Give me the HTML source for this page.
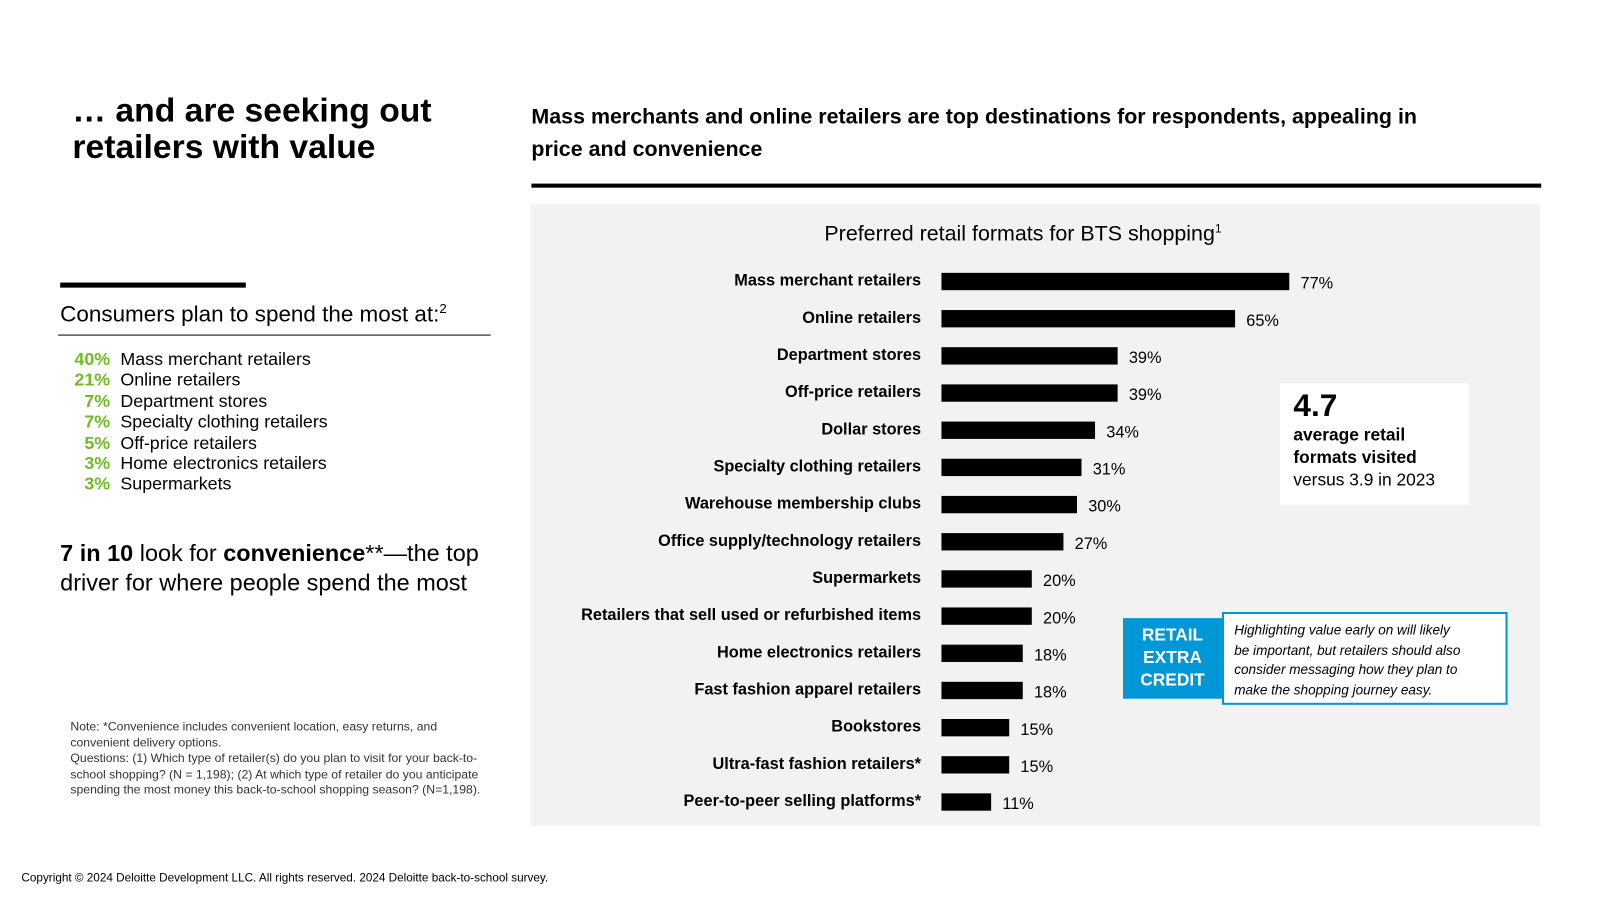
<!DOCTYPE html>
<html><head><meta charset="utf-8"><style>
html,body{margin:0;padding:0;background:#fff;}
body{width:1600px;height:900px;overflow:hidden;font-family:"Liberation Sans",Arial,sans-serif;color:#000;}
#stage{position:absolute;left:0;top:0;width:1570px;height:882px;transform:scale(1.02);transform-origin:0 0;}
.abs{position:absolute;}
</style></head><body>
<div id="stage">
<div class="abs" style="left:71px;top:90px;font-size:33px;font-weight:bold;line-height:36px;">… and are seeking out<br>retailers with value</div>
<div class="abs" style="left:521px;top:99px;font-size:21px;font-weight:bold;line-height:32px;width:980px;">Mass merchants and online retailers are top destinations for respondents, appealing in<br>price and convenience</div>
<div class="abs" style="left:521px;top:180px;width:990px;height:4px;background:#000;"></div>

<div class="abs" style="left:59px;top:277px;width:182px;height:5px;background:#000;"></div>
<div class="abs" style="left:59px;top:295px;font-size:22px;">Consumers plan to spend the most at:<sup style="font-size:13px">2</sup></div>
<div class="abs" style="left:57px;top:328px;width:424px;height:1px;background:#000;"></div>
<div class="abs" id="spendList" style="left:59px;top:342px;font-size:17.5px;line-height:20.4px;"></div>
<div class="abs" style="left:59px;top:528px;font-size:23px;line-height:29px;">
<b>7 in 10</b> look for <b>convenience</b>**—the top<br>driver for where people spend the most</div>
<div class="abs" style="left:69px;top:705px;width:410px;font-size:12px;line-height:15.6px;color:#333;">Note: *Convenience includes convenient location, easy returns, and<br>convenient delivery options.<br>Questions: (1) Which type of retailer(s) do you plan to visit for your back-to-school shopping? (N = 1,198); (2) At which type of retailer do you anticipate spending the most money this back-to-school shopping season? (N=1,198).</div>
<div class="abs" style="left:21px;top:855px;font-size:11.5px;">Copyright © 2024 Deloitte Development LLC. All rights reserved. 2024 Deloitte back-to-school survey.</div>

<div class="abs" style="left:520px;top:200px;width:990px;height:610px;background:#f2f2f2;"></div>
<div class="abs" style="left:520px;top:217px;width:966px;text-align:center;font-size:21px;">Preferred retail formats for BTS shopping<sup style="font-size:12px">1</sup></div>
<svg class="abs" id="chart" style="left:0;top:0" width="1570" height="882"></svg>

<div class="abs" style="left:1255px;top:376px;width:185px;height:119px;background:#fff;">
<div style="position:absolute;left:13px;top:4px;font-size:31px;font-weight:bold;">4.7</div>
<div style="position:absolute;left:13px;top:40px;font-size:17px;line-height:22px;"><b style="font-weight:600">average retail<br>formats visited</b><br>versus 3.9 in 2023</div>
</div>
<div class="abs" style="left:1101px;top:606px;width:97px;height:79px;background:#0097d6;color:#fff;font-weight:bold;font-size:17px;line-height:22px;text-align:center;padding-top:6px;box-sizing:border-box;">RETAIL<br>EXTRA<br>CREDIT</div>
<div class="abs" style="left:1198px;top:600px;width:280px;height:91px;border:2px solid #0097d6;box-sizing:border-box;background:#fff;padding:6px 10px;font-style:italic;font-size:13.3px;line-height:19.6px;white-space:nowrap;">Highlighting value early on will likely<br>be important, but retailers should also<br>consider messaging how they plan to<br>make the shopping journey easy.</div>
</div>
<script>
const spendPct=["40%","21%","7%","7%","5%","3%","3%"];
const spendCats=["Mass merchant retailers","Online retailers","Department stores","Specialty clothing retailers","Off-price retailers","Home electronics retailers","Supermarkets"];
const list=document.getElementById('spendList');
spendCats.forEach((c,i)=>{
  const row=document.createElement('div');
  
  
  row.style.whiteSpace='nowrap';
  row.innerHTML='<span style="display:inline-block;width:49px;text-align:right;color:#6ebd1e;font-weight:bold;margin-right:10px">'+spendPct[i]+'</span>'+c;
  list.appendChild(row);
});

const categories=["Mass merchant retailers","Online retailers","Department stores","Off-price retailers","Dollar stores","Specialty clothing retailers","Warehouse membership clubs","Office supply/technology retailers","Supermarkets","Retailers that sell used or refurbished items","Home electronics retailers","Fast fashion apparel retailers","Bookstores","Ultra-fast fashion retailers*","Peer-to-peer selling platforms*"];
const values=[77,65,39,39,34,31,30,27,20,20,18,18,15,15,11];
const NS='http://www.w3.org/2000/svg';
const svg=document.getElementById('chart');
const x0=923, pxPer=341/77;
const xScale=v=>x0+v*pxPer;
const yScale=i=>276+i*36.45;
categories.forEach((c,i)=>{
  const y=yScale(i);
  const r=document.createElementNS(NS,'rect');
  
  
  r.setAttribute('x',x0);r.setAttribute('y',y-8.5);
  r.setAttribute('width',xScale(values[i])-x0);r.setAttribute('height',17);
  r.setAttribute('fill','#000');svg.appendChild(r);
  const t=document.createElementNS(NS,'text');
  
  
  t.setAttribute('x',903);t.setAttribute('y',y+4);t.setAttribute('text-anchor','end');
  t.setAttribute('font-size','16');t.setAttribute('font-weight','600');
  t.setAttribute('font-family','Liberation Sans, Arial, sans-serif');
  t.textContent=c;svg.appendChild(t);
  const v=document.createElementNS(NS,'text');
  
  
  v.setAttribute('x',xScale(values[i])+11);v.setAttribute('y',y+7);
  v.setAttribute('font-size','16');v.setAttribute('font-family','Liberation Sans, Arial, sans-serif');
  v.textContent=values[i]+'%';svg.appendChild(v);
});
</script>
</body></html>
